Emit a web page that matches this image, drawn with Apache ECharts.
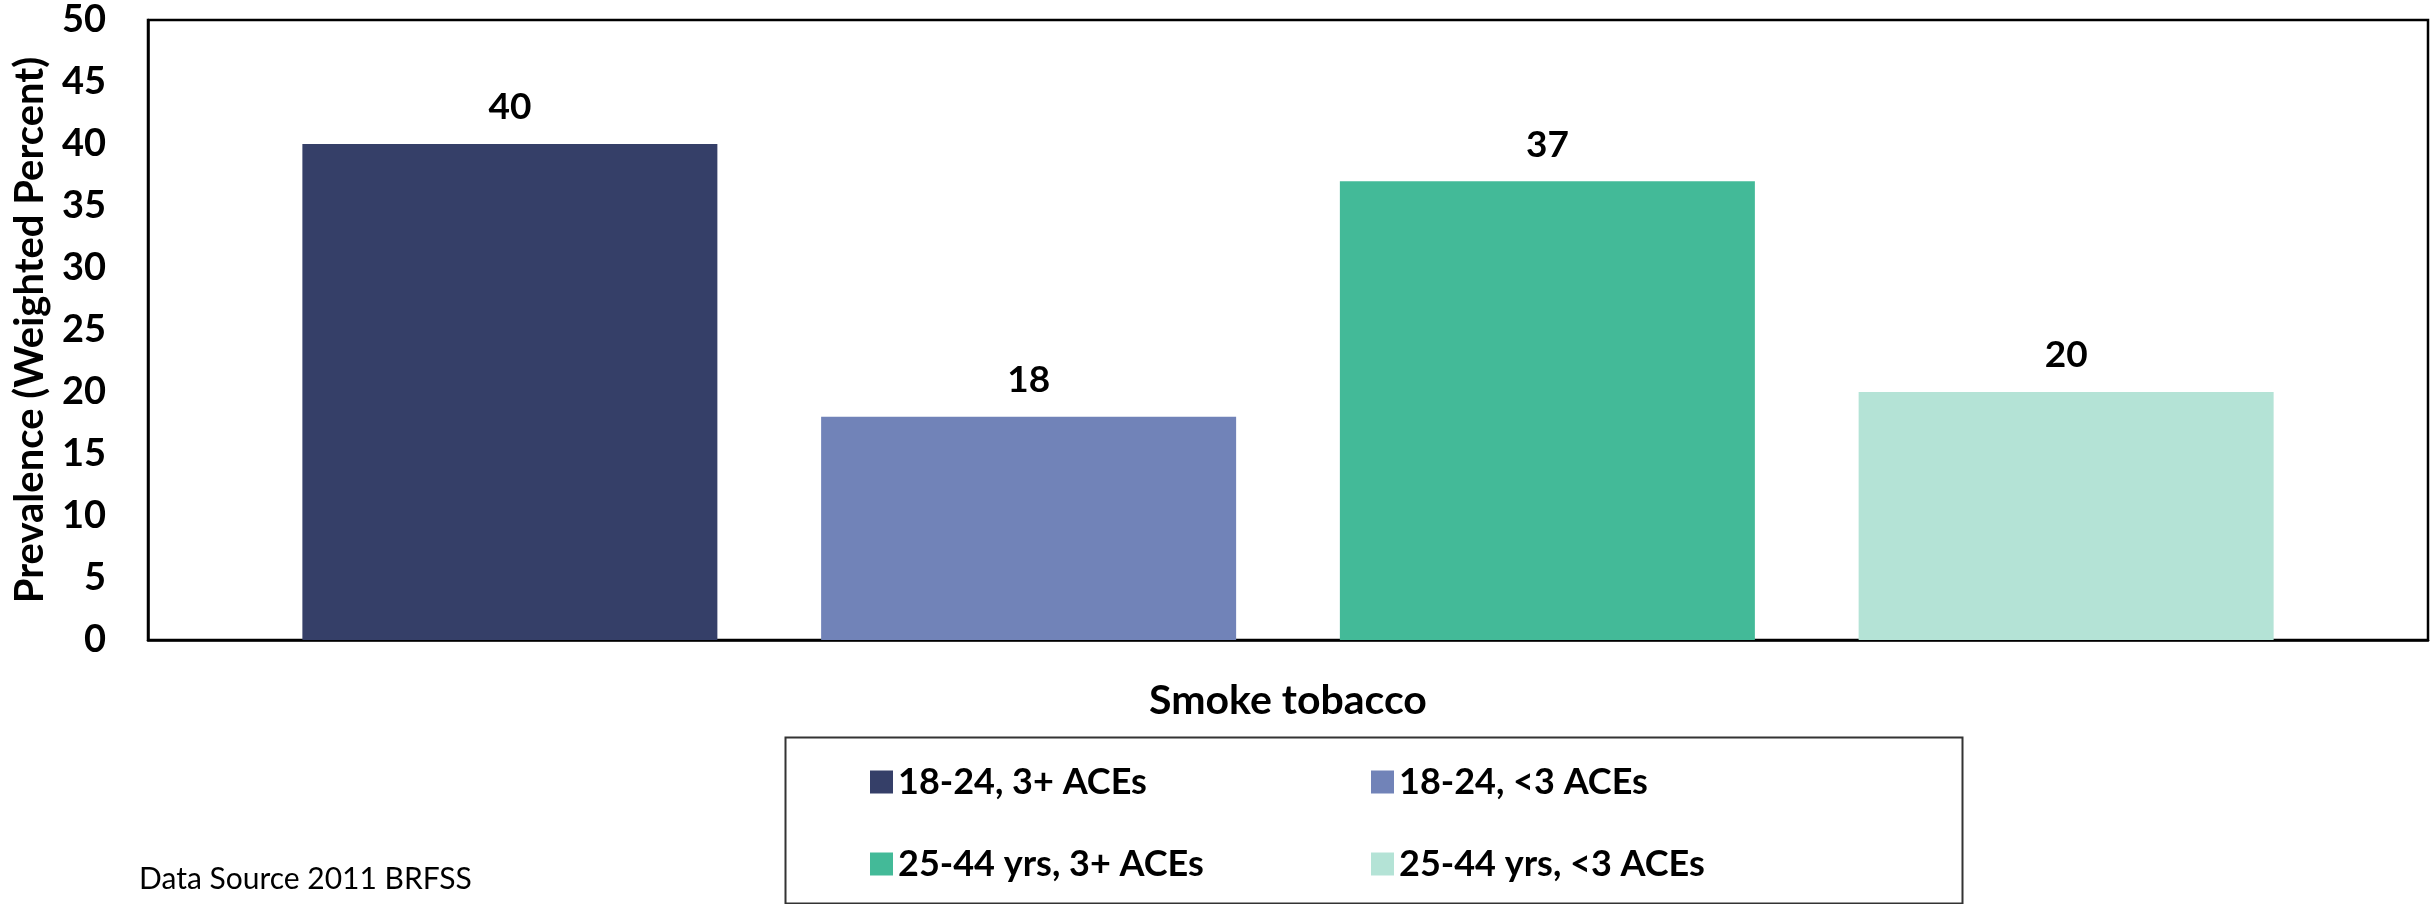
<!DOCTYPE html>
<html>
<head>
<meta charset="utf-8">
<title>Smoke tobacco prevalence by age group and ACEs</title>
<script src="https://cdn.jsdelivr.net/npm/echarts@6/dist/echarts.min.js"></script>
<style>
  html, body { margin: 0; padding: 0; background: #ffffff; }
  #chart { width: 2433px; height: 904px; }
</style>
</head>
<body>
<div id="chart"></div>
<script>
// Chart data
const categories = ['Smoke tobacco'];
const seriesNames = ['18-24, 3+ ACEs', '18-24, <3 ACEs', '25-44 yrs, 3+ ACEs', '25-44 yrs, <3 ACEs'];
const age18to24ThreePlus = [40];
const age18to24UnderThree = [18];
const age25to44ThreePlus = [37];
const age25to44UnderThree = [20];
const yTicks = [0, 5, 10, 15, 20, 25, 30, 35, 40, 45, 50];

const seriesValues = [age18to24ThreePlus, age18to24UnderThree, age25to44ThreePlus, age25to44UnderThree];
const colors = ['#353f68', '#7183b8', '#43ba98', '#b4e3d6'];
const FONT = 'Lato, "Open Sans", sans-serif';

const chart = echarts.init(document.getElementById('chart'), null, { renderer: 'canvas' });

const series = seriesNames.map((name, i) => ({
  name: name,
  type: 'bar',
  data: seriesValues[i],
  barWidth: 415,
  barGap: '25%',
  itemStyle: { color: colors[i] },
  label: {
    show: true,
    position: 'top',
    distance: 18,
    color: '#000',
    fontFamily: FONT,
    fontWeight: 'bold',
    fontSize: 37
  }
}));

const legendText = { color: '#000', fontFamily: FONT, fontWeight: 'bold', fontSize: 36 };

chart.setOption({
  animation: false,
  backgroundColor: '#ffffff',
  grid: {
    left: 148, top: 20, right: 5, bottom: 264,
    show: true, borderColor: '#000', borderWidth: 2.5,
    containLabel: false
  },
  title: {
    text: 'Data Source 2011 BRFSS',
    left: 134, top: 859,
    textStyle: { color: '#000', fontFamily: FONT, fontWeight: 'normal', fontSize: 30 }
  },
  legend: [
    {
      data: [seriesNames[0], seriesNames[2]],
      orient: 'vertical', left: 865, top: 759,
      itemWidth: 23, itemHeight: 23, itemGap: 46,
      icon: 'rect',
      textStyle: legendText,
      selectedMode: false
    },
    {
      data: [seriesNames[1], seriesNames[3]],
      orient: 'vertical', left: 1366, top: 759,
      itemWidth: 23, itemHeight: 23, itemGap: 46,
      icon: 'rect',
      textStyle: legendText,
      selectedMode: false
    }
  ],
  xAxis: {
    type: 'category',
    data: categories,
    axisLine: { show: true, lineStyle: { color: '#000', width: 2.5 } },
    axisTick: { show: false },
    axisLabel: {
      margin: 40,
      color: '#000', fontFamily: FONT, fontWeight: 'bold', fontSize: 41
    },
    splitLine: { show: false }
  },
  yAxis: {
    type: 'value',
    min: yTicks[0],
    max: yTicks[yTicks.length - 1],
    interval: yTicks[1] - yTicks[0],
    name: 'Prevalence (Weighted Percent)',
    nameLocation: 'middle',
    nameGap: 98,
    nameRotate: 90,
    nameTextStyle: { color: '#000', fontFamily: FONT, fontWeight: 'bold', fontSize: 40 },
    axisLine: { show: true, lineStyle: { color: '#000', width: 2.5 } },
    axisTick: { show: false },
    axisLabel: {
      margin: 42,
      color: '#000', fontFamily: FONT, fontWeight: 'bold', fontSize: 38
    },
    splitLine: { show: false }
  },
  graphic: [
    {
      type: 'rect',
      left: 783, top: 735,
      shape: { width: 1177, height: 166 },
      style: { fill: 'none', stroke: '#333', lineWidth: 2 },
      silent: true
    }
  ],
  series: series
});
</script>
</body>
</html>
